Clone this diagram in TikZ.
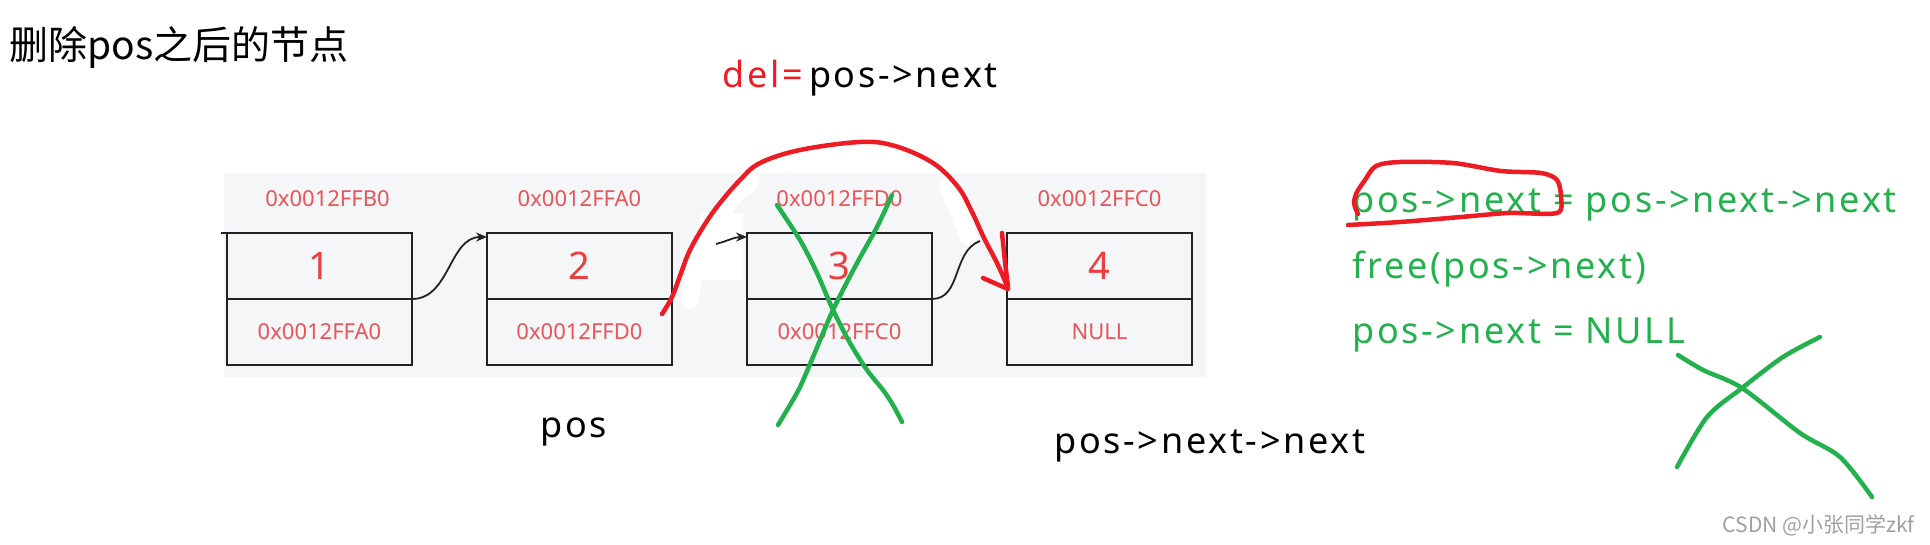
\documentclass[tikz,border=0pt]{standalone}
\usepackage{fontspec}
\setmainfont{Noto Sans}
\newfontfamily\cjk{Noto Sans CJK SC}
\newfontfamily\codefont{Noto Sans}[LetterSpace=7.5]
\usetikzlibrary{positioning,arrows.meta}
\definecolor{bggray}{RGB}{245,246,248}
\definecolor{addrred}{RGB}{234,84,88}
\definecolor{numred}{RGB}{236,62,62}
\definecolor{penred}{RGB}{237,28,36}
\definecolor{pengreen}{RGB}{34,177,76}
\definecolor{wmgray}{RGB}{160,160,160}
\definecolor{boxline}{RGB}{34,34,34}

\begin{document}
\begin{tikzpicture}[x=1pt,y=-1pt,
	cell/.style={draw=boxline,line width=2.2pt,outer sep=0pt,minimum width=185pt,minimum height=66pt,inner sep=0pt,font=\fontsize{22}{26}\selectfont,text=addrred},
	val/.style={cell,font=\fontsize{38}{42}\selectfont,text=numred,text depth=-3pt},
	addr/.style={inner sep=0pt,font=\fontsize{22}{26}\selectfont,text=addrred},
	code/.style={inner sep=0pt,anchor=base west,font=\codefont\fontsize{36}{40}\selectfont},
	link/.style={-{Stealth[length=11pt,width=9pt]},line width=1.8pt,boxline},
	pen/.style={line width=4.5pt,line cap=round,line join=round},
	erase/.style={white,line width=18pt,line cap=round,line join=round}]
	\useasboundingbox (0,0) rectangle (1930,544);
	\fill[bggray] (224,173) rectangle (1206,377);
	% eraser marks along the red stroke
	\draw[erase] plot[smooth] coordinates {(690,300) (697,262) (712,226) (732,198) (750,182)};
	\fill[white] (700,213) rectangle (743,280);
	\draw[erase] plot[smooth] coordinates {(948,186) (958,210) (968,236)};
	\node[inner sep=0pt,anchor=base west,font=\cjk\fontsize{39}{43}\selectfont] (title) at (9,59) {删除pos之后的节点};
	\node[code,text=penred] (del) at (722,87) {del=};
	\node[code] (delval) at ([xshift=6pt]del.base east) {pos->next};
	\node[val] (v1) at (319.5,266) {1};
	\node[cell,below=0pt of v1] (p1) {0x0012FFA0};
	\node[addr,above=26pt of v1,xshift=8pt] (a1) {0x0012FFB0};
	\node[val] (v2) at (579.5,266) {2};
	\node[cell,below=0pt of v2] (p2) {0x0012FFD0};
	\node[addr,above=26pt of v2] (a2) {0x0012FFA0};
	\node[val] (v3) at (839.5,266) {3};
	\node[cell,below=0pt of v3] (p3) {0x0012FFC0};
	\node[addr,above=26pt of v3] (a3) {0x0012FFD0};
	\node[val] (v4) at (1099.5,266) {4};
	\node[cell,below=0pt of v4] (p4) {NULL};
	\node[addr,above=26pt of v4] (a4) {0x0012FFC0};
	\coordinate (s1) at (221,233);
	\coordinate (s3) at (716,244);
	\coordinate (e3) at (980,241);
	\draw[boxline,line width=1.8pt] (s1) -- (v1.north west);
	\draw[link] (v1.south east) to[out=0,in=180] ([yshift=-4pt]v2.north west);
	\draw[link] (s3) to[out=15,in=180] ([yshift=-4pt]v3.north west);
	\draw[boxline,line width=1.8pt] (v3.south east) to[out=0,in=200] (e3);
	\node[code] (lpos) at (540,437) {pos};
	\node[code] (lnn) at (1054,453) {pos->next->next};
	\node[code,text=pengreen] (c1) at (1352,212) {pos->next = pos->next->next};
	\node[code,text=pengreen] (c2) at (1352,278) {free(pos->next)};
	\node[code,text=pengreen] (c3) at (1352,343) {pos->next = NULL};
	\node[inner sep=0pt,anchor=base east,text=wmgray,font=\cjk\fontsize{21}{24}\selectfont] (wm) at (1915,532) {CSDN @小张同学zkf};
	% hand drawn marks
	\draw[pen,penred] plot[smooth,tension=0.6] coordinates {(662,314) (672,297) (681,273) (690,250) (705,224) (720,203) (740,180) (760,163) (800,150) (860,142) (895,146) (933,163) (958,187) (972,212) (984,238) (997,263) (1008,288)};
	\draw[pen,penred] (1002,233) -- (1005,262) -- (1008,287);
	\draw[pen,penred] (983,278) -- (1008,289);
	\draw[pen,pengreen] plot[smooth] coordinates {(777,205) (800,240) (817,273) (833,310) (850,343) (867,370) (883,390) (893,405) (902,422)};
	\draw[pen,pengreen] plot[smooth] coordinates {(892,195) (877,227) (857,263) (833,310) (813,357) (800,387) (790,405) (778,425)};
	\draw[pen,pengreen] plot[smooth] coordinates {(1678,355) (1703,370) (1742,388) (1800,433) (1840,457) (1872,497)};
	\draw[pen,pengreen] plot[smooth] coordinates {(1820,337) (1783,357) (1742,388) (1707,417) (1677,467)};
	\draw[pen,penred] plot[smooth] coordinates {(1348,225) (1400,222) (1461,217) (1509,213) (1557,213) (1561,197) (1557,180) (1541,173) (1501,171) (1453,163) (1400,162) (1376,166) (1365,180) (1357,192) (1354,203) (1358,214)};
\end{tikzpicture}
\end{document}
